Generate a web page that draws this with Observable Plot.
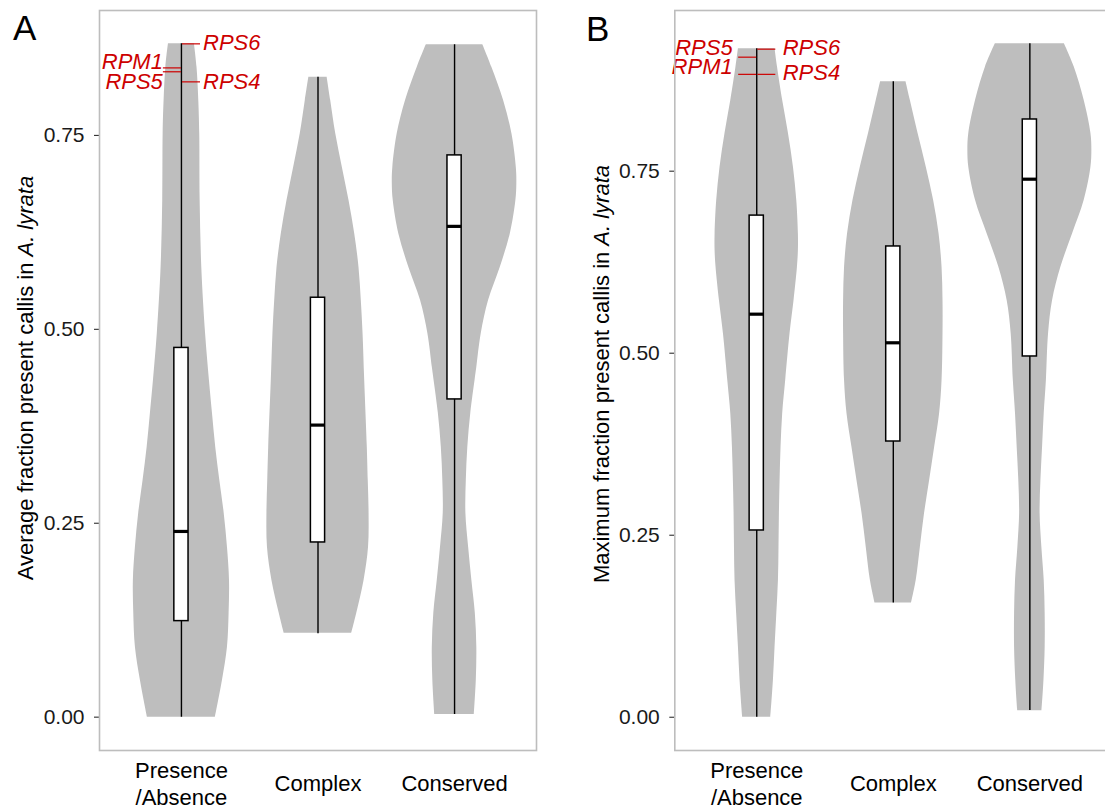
<!DOCTYPE html>
<html><head><meta charset="utf-8">
<script src="https://cdn.jsdelivr.net/npm/d3@7"></script>
<script src="https://cdn.jsdelivr.net/npm/@observablehq/plot@0.6"></script>
<style>
html,body{margin:0;padding:0;background:#fff;overflow:hidden;width:1105px;height:805px;}
#wrap{position:relative;width:1105px;height:805px;overflow:hidden;background:#fff;}
.panel{position:absolute;top:0;}
</style></head><body><div id="wrap"></div>
<script>
// ---------------- data ----------------
const categories = ["Presence/Absence", "Complex", "Conserved"];
const axisLabels = ["Presence\n/Absence", "Complex", "Conserved"];
const positions = [1, 2, 3];
const yTicks = [0, 0.25, 0.5, 0.75];

// violin profiles: [value, half-width (category units)]
const violinA_PA = [[0,0.249],[0.047,0.300],[0.090,0.337],[0.134,0.349],[0.176,0.352],[0.219,0.337],[0.263,0.313],[0.305,0.281],[0.348,0.251],[0.392,0.227],[0.434,0.205],[0.494,0.177],[0.580,0.149],[0.666,0.137],[0.752,0.134],[0.795,0.127],[0.838,0.114],[0.868,0.095]];
const violinA_CX = [[0.108,0.247],[0.134,0.284],[0.176,0.337],[0.219,0.370],[0.263,0.374],[0.305,0.368],[0.348,0.361],[0.434,0.342],[0.494,0.330],[0.537,0.317],[0.580,0.300],[0.623,0.269],[0.666,0.227],[0.709,0.178],[0.752,0.130],[0.795,0.093],[0.825,0.067]];
const violinA_CV = [[0.0035,0.145],[0.047,0.159],[0.090,0.163],[0.134,0.152],[0.176,0.127],[0.219,0.103],[0.263,0.083],[0.305,0.086],[0.348,0.097],[0.392,0.119],[0.434,0.150],[0.451,0.163],[0.494,0.195],[0.537,0.249],[0.580,0.335],[0.623,0.408],[0.666,0.449],[0.688,0.456],[0.709,0.452],[0.752,0.420],[0.795,0.359],[0.838,0.273],[0.867,0.207]];
const violinB_PA = [[0,0.103],[0.050,0.122],[0.096,0.134],[0.142,0.147],[0.188,0.159],[0.233,0.163],[0.280,0.166],[0.325,0.171],[0.371,0.178],[0.417,0.190],[0.4625,0.212],[0.527,0.244],[0.572,0.273],[0.618,0.298],[0.641,0.305],[0.664,0.305],[0.710,0.293],[0.755,0.269],[0.802,0.232],[0.847,0.190],[0.893,0.152],[0.918,0.134]];
const violinB_CX = [[0.157,0.134],[0.188,0.168],[0.233,0.198],[0.280,0.229],[0.325,0.266],[0.371,0.303],[0.417,0.339],[0.4625,0.357],[0.527,0.364],[0.572,0.364],[0.618,0.357],[0.664,0.335],[0.710,0.295],[0.755,0.242],[0.802,0.181],[0.847,0.125],[0.873,0.093]];
const violinB_CV = [[0.009,0.089],[0.050,0.103],[0.096,0.112],[0.142,0.112],[0.188,0.105],[0.233,0.088],[0.280,0.075],[0.325,0.081],[0.371,0.093],[0.417,0.105],[0.4625,0.121],[0.527,0.137],[0.572,0.166],[0.618,0.227],[0.664,0.313],[0.710,0.398],[0.755,0.447],[0.778,0.454],[0.802,0.447],[0.847,0.398],[0.893,0.325],[0.925,0.253]];

// box statistics per category
const boxA_min = [0, 0.1075, 0.0035];
const boxA_q1  = [0.1238, 0.2252, 0.4096];
const boxA_med = [0.2394, 0.3765, 0.6327];
const boxA_q3  = [0.476, 0.5407, 0.7242];
const boxA_max = [0.868, 0.825, 0.867];
const boxB_min = [0, 0.157, 0.0092];
const boxB_q1  = [0.2565, 0.3787, 0.4955];
const boxB_med = [0.5536, 0.5143, 0.739];
const boxB_q3  = [0.689, 0.6466, 0.821];
const boxB_max = [0.918, 0.873, 0.925];

// labelled genes (all in Presence/Absence)
const genesA = ["RPS6", "RPM1", "RPS5", "RPS4"];
const genesA_value = [0.868, 0.837, 0.832, 0.819];
const genesA_labelY = [0.8697, 0.8445, 0.8194, 0.8194];
const genesA_side = [1, -1, -1, 1];
const genesB = ["RPS6", "RPS5", "RPM1", "RPS4"];
const genesB_value = [0.9176, 0.9066, 0.883, 0.883];
const genesB_labelY = [0.919, 0.919, 0.893, 0.8845];
const genesB_side = [1, -1, -1, 1];

// ---------------- drawing ----------------
const FONT = "'Liberation Sans', Arial, Helvetica, sans-serif";
const RED = "#CD0000";

function panel(cfg) {
  const rows = [];
  cfg.violins.forEach((prof, i) => prof.forEach(([v, w]) => rows.push({cat: categories[i], pos: positions[i], v, w})));
  const boxes = categories.map((c, i) => ({cat: c, pos: positions[i], min: cfg.min[i], q1: cfg.q1[i], med: cfg.med[i], q3: cfg.q3[i], max: cfg.max[i]}));
  const labels = cfg.genes.map((g, i) => ({gene: g, pos: positions[0], value: cfg.value[i], ly: cfg.labelY[i], side: cfg.side[i]}));
  const bw = 0.052;
  const plot = Plot.plot({
    width: cfg.width, height: 805,
    marginLeft: cfg.marginLeft, marginRight: cfg.marginRight, marginTop: 10, marginBottom: 55,
    x: {domain: [0.4, 3.6], axis: null},
    y: {domain: cfg.yDomain, axis: null},
    style: {fontFamily: FONT, background: "white", overflow: "visible"},
    marks: [
      Plot.areaX(rows, {y: "v", x1: d => d.pos - d.w, x2: d => d.pos + d.w, z: "cat", fill: "#bebebe", curve: "catmull-rom"}),
      Plot.ruleX(boxes, {x: "pos", y1: "min", y2: "max", stroke: "black", strokeWidth: 1.4}),
      Plot.rect(boxes, {x1: d => d.pos - bw, x2: d => d.pos + bw, y1: "q1", y2: "q3", fill: "white", stroke: "black", strokeWidth: 1.5}),
      Plot.ruleY(boxes, {y: "med", x1: d => d.pos - bw, x2: d => d.pos + bw, stroke: "black", strokeWidth: 3.2}),
      Plot.link(labels, {x1: d => d.pos + d.side * 0.004, x2: d => d.pos + d.side * 0.136, y1: "value", y2: "value", stroke: RED, strokeWidth: 1.2}),
      Plot.text(labels.filter(d => d.side > 0), {x: d => d.pos + cfg.dxRight, y: "ly", text: "gene", textAnchor: "start", lineAnchor: "middle", fill: RED, fontSize: 22, fontStyle: "italic"}),
      Plot.text(labels.filter(d => d.side < 0), {x: d => d.pos + cfg.dxLeft, y: "ly", text: "gene", textAnchor: "end", lineAnchor: "middle", fill: RED, fontSize: 22, fontStyle: "italic"}),
      Plot.axisY({ticks: yTicks, tickFormat: d3.format(".2f"), tickSize: 5, tickPadding: 10, fontSize: 21, label: null, color: "#1a1a1a"}),
      Plot.text(axisLabels, {x: (d, i) => positions[i], text: d => d, frameAnchor: "bottom", dy: 32, lineAnchor: "middle", lineHeight: 1.23, fontSize: 22, fill: "black"}),
      Plot.frame({stroke: "#bdbdbd", strokeWidth: 1.6})
    ]
  });
  const svg = d3.select(plot);
  const t = svg.append("text")
    .attr("transform", `translate(${cfg.titleX},${cfg.titleY}) rotate(-90)`)
    .attr("text-anchor", "middle")
    .attr("font-size", 22)
    .attr("fill", "black")
    .style("white-space", "pre");
  t.append("tspan").text(cfg.title);
  t.append("tspan").attr("font-style", "italic").text("A. lyrata");
  svg.append("text")
    .attr("x", cfg.letterX).attr("y", cfg.letterY)
    .attr("text-anchor", "start")
    .attr("font-size", 35).attr("fill", "black")
    .text(cfg.letter);
  return plot;
}

const wrap = document.getElementById("wrap");

const pA = panel({
  width: 545, marginLeft: 99, marginRight: 9,
  yDomain: [-0.043, 0.911],
  violins: [violinA_PA, violinA_CX, violinA_CV],
  min: boxA_min, q1: boxA_q1, med: boxA_med, q3: boxA_q3, max: boxA_max,
  genes: genesA, value: genesA_value, labelY: genesA_labelY, side: genesA_side,
  dxRight: 0.158, dxLeft: -0.136,
  title: "Average fraction present callis in ", titleX: 32.5, titleY: 378,
  letter: "A", letterX: 13, letterY: 39.5
});
pA.setAttribute("class", "panel");
pA.style.left = "0px";
wrap.appendChild(pA);

const pB = panel({
  width: 560, marginLeft: 114.3, marginRight: 8.7,
  yDomain: [-0.0457, 0.9707],
  violins: [violinB_PA, violinB_CX, violinB_CV],
  min: boxB_min, q1: boxB_q1, med: boxB_med, q3: boxB_q3, max: boxB_max,
  genes: genesB, value: genesB_value, labelY: genesB_labelY, side: genesB_side,
  dxRight: 0.19, dxLeft: -0.176,
  title: "Maximum fraction present callis in ", titleX: 49, titleY: 374,
  letter: "B", letterX: 26, letterY: 40.7
});
pB.setAttribute("class", "panel");
pB.style.left = "560px";
wrap.appendChild(pB);
</script>
</body></html>
